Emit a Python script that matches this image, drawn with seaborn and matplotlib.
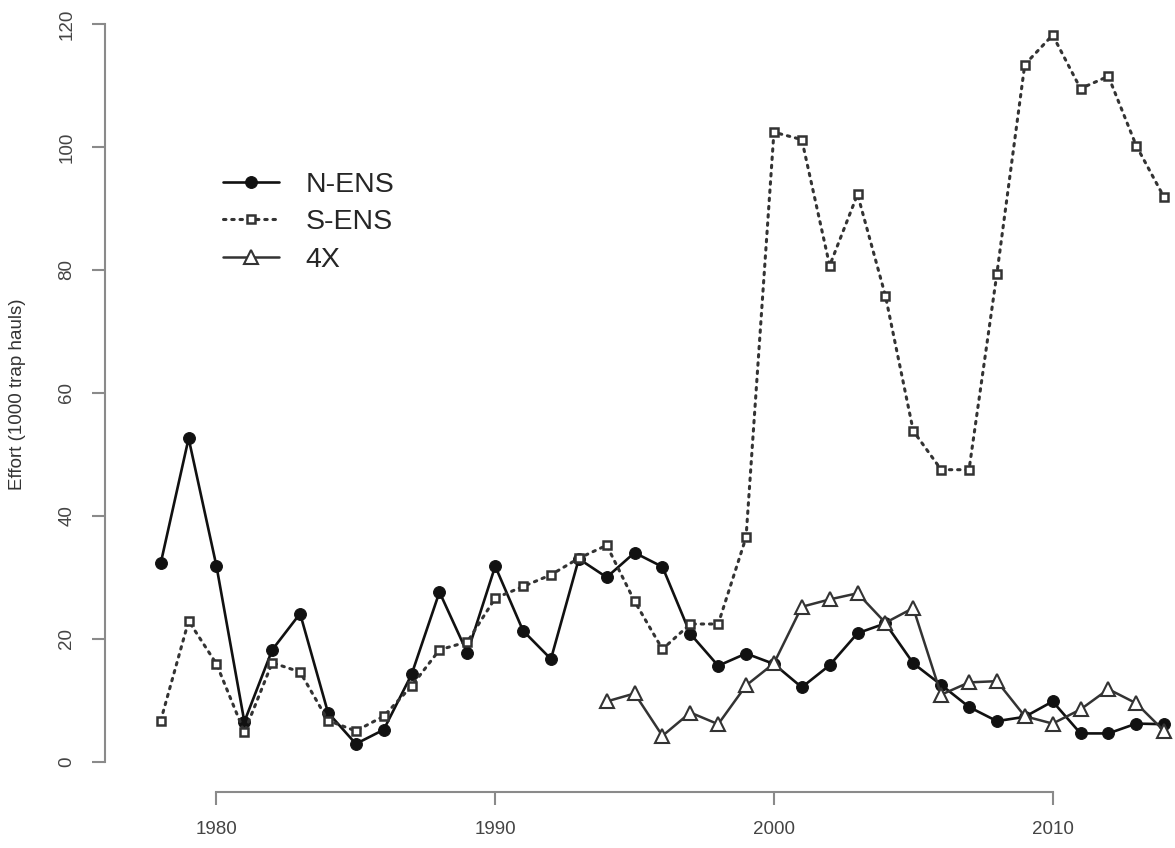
import numpy as np
import pandas as pd
import matplotlib
matplotlib.use('Agg')
import matplotlib.pyplot as plt
import seaborn as sns

# data
years = list(range(1978, 2015))
n_ens = [32.3, 52.6, 31.8, 6.5, 18.2, 24.1, 8.0, 2.9, 5.2, 14.2, 27.6, 17.7, 31.8,
         21.3, 16.7, 33.0, 30.0, 34.0, 31.7, 20.8, 15.6, 17.6, 15.9, 12.1, 15.7,
         20.9, 22.5, 16.0, 12.5, 8.9, 6.6, 7.3, 9.8, 4.6, 4.6, 6.2, 6.1]
s_ens = [6.7, 22.9, 15.9, 4.8, 16.1, 14.6, 6.7, 5.0, 7.4, 12.3, 18.2, 19.5, 26.6,
         28.5, 30.4, 33.1, 35.2, 26.1, 18.3, 22.4, 22.4, 36.5, 102.4, 101.2, 80.7,
         92.3, 75.8, 53.8, 47.5, 47.5, 79.4, 113.4, 118.2, 109.5, 111.5, 100.2, 91.8]
years_4x = list(range(1994, 2015))
x4 = [9.8, 11.1, 4.2, 8.0, 6.1, 12.4, 16.0, 25.2, 26.4, 27.4, 22.6, 25.0, 10.9,
      12.9, 13.1, 7.4, 6.2, 8.5, 11.8, 9.5, 5.0]

sns.set_style('ticks')
plt.rcParams['font.family'] = ['Liberation Sans', 'DejaVu Sans']

W, H = 1175, 848
fig = plt.figure(figsize=(W / 100, H / 100), dpi=100)
ax = fig.add_axes([105 / W, 56.3 / H, 1070 / W, 785.7 / H])

sns.lineplot(x=years, y=n_ens, ax=ax, color='#111111', lw=1.9, marker='o',
             markersize=8.5, markeredgecolor='#111111', markerfacecolor='#111111',
             label='N-ENS', clip_on=False)
sns.lineplot(x=years, y=s_ens, ax=ax, color='#333333', lw=2.2, linestyle=(0, (0.8, 1.9)),
             dash_capstyle='round', marker='s', markersize=6, markeredgewidth=1.8,
             markeredgecolor='#333333', markerfacecolor='white', label='S-ENS', clip_on=False)
sns.lineplot(x=years_4x, y=x4, ax=ax, color='#333333', lw=1.8, marker='^',
             markersize=10, markeredgewidth=1.5, markeredgecolor='#333333',
             markerfacecolor='white', label='4X', clip_on=False)

ax.set_xlim(1976.0, 2014.39)
ax.set_ylim(-4.88, 122.93)
ax.set_xticks([1980, 1990, 2000, 2010])
ax.set_yticks([0, 20, 40, 60, 80, 100, 120])
ax.set_xlabel('')
ax.set_ylabel('')

for s in ['top', 'right']:
    ax.spines[s].set_visible(False)
ax.spines['left'].set_bounds(0, 120)
ax.spines['bottom'].set_bounds(1980, 2010)
for s in ['left', 'bottom']:
    ax.spines[s].set_color('#8a8a8a')
    ax.spines[s].set_linewidth(1.5)

ax.tick_params(axis='both', which='major', bottom=True, left=True, direction='out',
               length=9.4, width=1.5, color='#8a8a8a',
               labelsize=13.5, labelcolor='#444444', pad=12)
ax.tick_params(axis='y', labelrotation=90)
for lab in ax.get_yticklabels():
    lab.set_va('center')

fig.text(18 / W, 1 - 394 / H, 'Effort (1000 trap hauls)', rotation=90,
         ha='center', va='center', fontsize=13.5, color='#333333')

leg = ax.legend(loc='upper left', bbox_to_anchor=(223 / W, 1 - 172 / H),
                bbox_transform=fig.transFigure, frameon=False, fontsize=20.5,
                handlelength=1.95, handletextpad=0.95, labelspacing=0.4,
                borderpad=0, borderaxespad=0)

fig.savefig('out.png', dpi=100)
